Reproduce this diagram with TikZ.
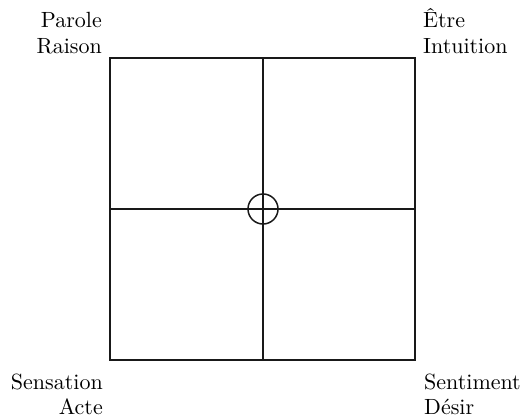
\documentclass[tikz,border=0pt]{standalone}
\usepackage{fontspec}
\setmainfont{lmroman10-regular.otf}
\begin{document}
\begin{tikzpicture}[x=1pt,y=-1pt,
  frame/.style={line width=1.5pt,draw=black!90},
  lbl/.style={inner sep=0pt,font=\fontsize{22}{25}\selectfont,text=black}]
\useasboundingbox (0,0) rectangle (530,420);
\coordinate (tl) at (110,58);
\coordinate (tr) at (415,58);
\coordinate (bl) at (110,360);
\coordinate (br) at (415,360);
\coordinate (tm) at (263,58);
\coordinate (bm) at (263,360);
\coordinate (lm) at (110,209);
\coordinate (rm) at (415,209);
\draw[frame] (tl) -- (tr) -- (br) -- (bl) -- cycle;
\draw[frame] (tm) -- (bm);
\draw[frame] (lm) -- (rm);
\node[frame,circle,minimum size=30pt,inner sep=0pt] (c) at (263,209) {};
\node[lbl,anchor=base east] (p1) at (102,28) {Parole};
\node[lbl,anchor=base east] (p2) at (102,53) {Raison};
\node[lbl,anchor=base west] (e1) at (423,28) {Être};
\node[lbl,anchor=base west] (e2) at (423,53) {Intuition};
\node[lbl,anchor=base east] (s1) at (103,389) {Sensation};
\node[lbl,anchor=base east] (s2) at (103,414) {Acte};
\node[lbl,anchor=base west] (t1) at (424,389) {Sentiment};
\node[lbl,anchor=base west] (t2) at (424,414) {Désir};
\end{tikzpicture}
\end{document}
